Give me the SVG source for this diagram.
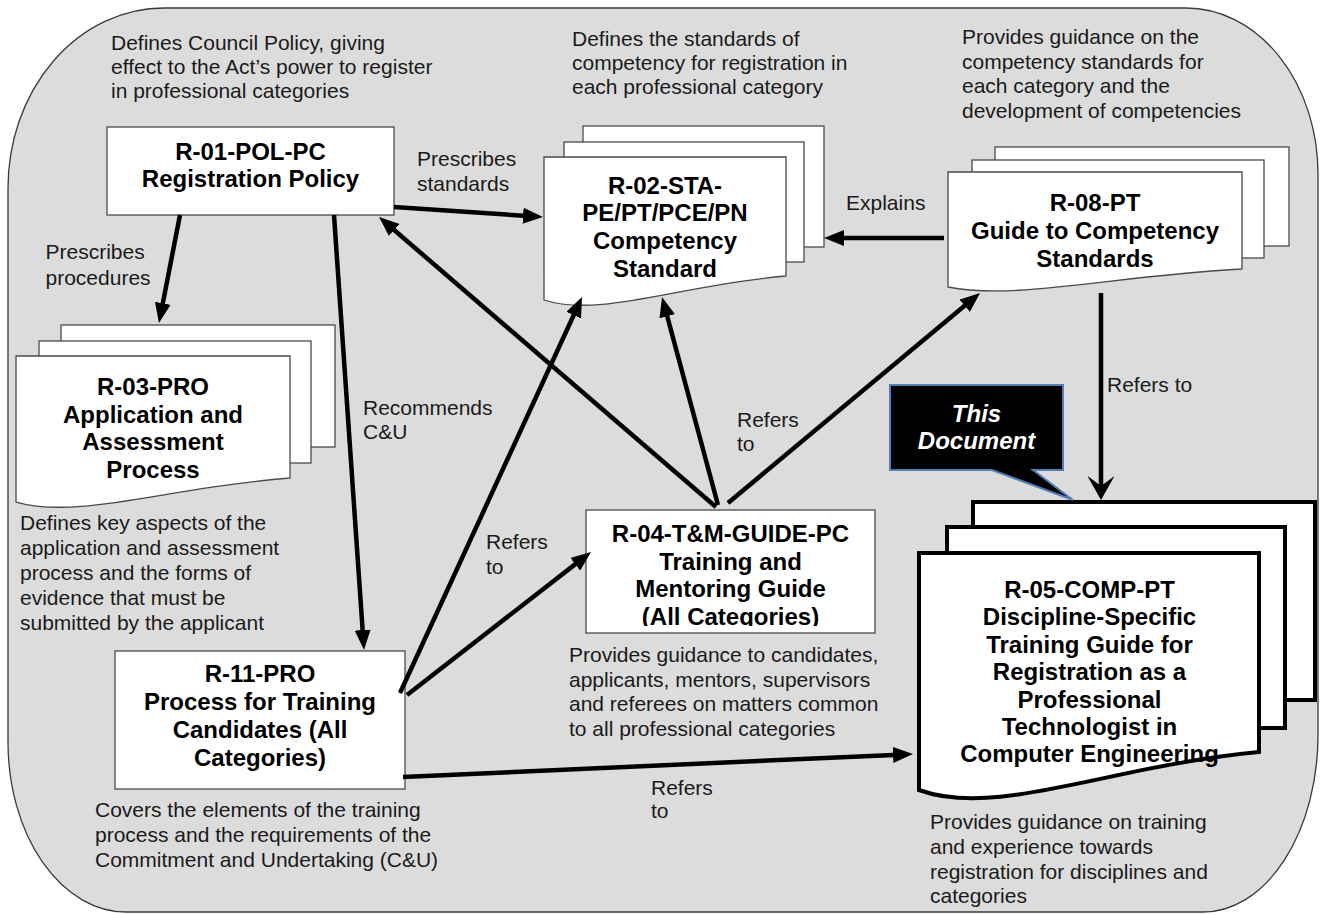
<svg xmlns="http://www.w3.org/2000/svg" width="1321" height="915" viewBox="0 0 1321 915">
<defs>
<style>
.bg{fill:#dcdcdc;stroke:#3a3a3a;stroke-width:1.3}
.pg{fill:#fff;stroke:#4a4a4a;stroke-width:1.3}
.pgk{fill:#fff;stroke:#000;stroke-width:4}
.t{font-family:"Liberation Sans",Arial,sans-serif;font-size:21px;fill:#1a1a1a}
.b{font-family:"Liberation Sans",Arial,sans-serif;font-size:24px;font-weight:bold;fill:#000;text-anchor:middle}
.c{fill:none;stroke:#000;stroke-width:4.5}
.ar{marker-end:url(#ah)}
.as{marker-end:url(#st)}
</style>
<marker id="ah" markerUnits="userSpaceOnUse" markerWidth="20" markerHeight="16" refX="12" refY="8" orient="auto" viewBox="0 0 20 16"><path d="M0,0 L20,8 L0,16 z" fill="#000"/></marker>
<marker id="st" markerUnits="userSpaceOnUse" markerWidth="24" markerHeight="27" refX="12" refY="13.5" orient="auto" viewBox="0 0 24 27"><path d="M0,0 L24,13.5 L0,27 L10,13.5 z" fill="#000"/></marker>
<clipPath id="r04clip"><rect x="586" y="510" width="289" height="116"/></clipPath>
</defs>

<path class="bg" d="M164,8 H1186 A132,166 0 0 1 1318,174 V735 A115,177 0 0 1 1203,912 H126 A118,170 0 0 1 8,742 V188 A156,180 0 0 1 164,8 Z"/>

<g id="r01">
<rect class="pg" x="107" y="127" width="287" height="88"/>
<text class="b"><tspan x="250.5" y="160">R-01-POL-PC</tspan><tspan x="250.5" y="187">Registration Policy</tspan></text>
<text class="t"><tspan x="111" y="50">Defines Council Policy, giving</tspan><tspan x="111" y="74">effect to the Act’s power to register</tspan><tspan x="111" y="98">in professional categories</tspan></text>
</g>

<g id="r02">
<rect class="pg" x="583" y="126" width="241" height="121"/>
<rect class="pg" x="564" y="142" width="240" height="120"/>
<path class="pg" d="M544,157 H786 V276 C679.5,285 599.7,318 544,300 Z"/>
<text class="b"><tspan x="665" y="193.5">R-02-STA-</tspan><tspan x="665" y="221.3">PE/PT/PCE/PN</tspan><tspan x="665" y="249">Competency</tspan><tspan x="665" y="276.8">Standard</tspan></text>
<text class="t"><tspan x="572" y="46">Defines the standards of</tspan><tspan x="572" y="70">competency for registration in</tspan><tspan x="572" y="94">each professional category</tspan></text>
</g>

<g id="r08">
<rect class="pg" x="995" y="147" width="294" height="99"/>
<rect class="pg" x="972" y="160" width="292" height="98"/>
<path class="pg" d="M948,172 H1242 V269 C1112.6,275.75 1015.6,300.5 948,287 Z"/>
<text class="b"><tspan x="1095" y="210.7">R-08-PT</tspan><tspan x="1095" y="239">Guide to Competency</tspan><tspan x="1095" y="266.7">Standards</tspan></text>
<text class="t"><tspan x="962" y="44">Provides guidance on the</tspan><tspan x="962" y="68.5">competency standards for</tspan><tspan x="962" y="93">each category and the</tspan><tspan x="962" y="117.5">development of competencies</tspan></text>
</g>

<g id="r03">
<rect class="pg" x="61" y="325" width="274" height="122"/>
<rect class="pg" x="39" y="341" width="272" height="122"/>
<path class="pg" d="M16,356 H290 V478 C169.4,487 79,520 16,502 Z"/>
<text class="b"><tspan x="153" y="395">R-03-PRO</tspan><tspan x="153" y="422.7">Application and</tspan><tspan x="153" y="450">Assessment</tspan><tspan x="153" y="477.7">Process</tspan></text>
<text class="t"><tspan x="20" y="530">Defines key aspects of the</tspan><tspan x="20" y="555">application and assessment</tspan><tspan x="20" y="580">process and the forms of</tspan><tspan x="20" y="605">evidence that must be</tspan><tspan x="20" y="630">submitted by the applicant</tspan></text>
</g>

<g id="r04">
<rect class="pg" x="586" y="510" width="289" height="123"/>
<text class="b" clip-path="url(#r04clip)"><tspan x="730.5" y="542">R-04-T&amp;M-GUIDE-PC</tspan><tspan x="730.5" y="569.5">Training and</tspan><tspan x="730.5" y="597">Mentoring Guide</tspan><tspan x="730.5" y="624.5">(All Categories)</tspan></text>
<text class="t"><tspan x="569" y="662">Provides guidance to candidates,</tspan><tspan x="569" y="686.5">applicants, mentors, supervisors</tspan><tspan x="569" y="711">and referees on matters common</tspan><tspan x="569" y="735.5">to all professional categories</tspan></text>
</g>

<g id="r11">
<rect class="pg" x="115" y="651" width="290" height="138"/>
<text class="b"><tspan x="260" y="681.7">R-11-PRO</tspan><tspan x="260" y="710">Process for Training</tspan><tspan x="260" y="738.3">Candidates (All</tspan><tspan x="260" y="766">Categories)</tspan></text>
<text class="t"><tspan x="95" y="817">Covers the elements of the training</tspan><tspan x="95" y="842">process and the requirements of the</tspan><tspan x="95" y="866.5">Commitment and Undertaking (C&amp;U)</tspan></text>
</g>

<g id="r05">
<rect class="pgk" x="973" y="502" width="342" height="198"/>
<rect class="pgk" x="947" y="527" width="338" height="201"/>
<path class="pgk" d="M919,553 H1259 V752 C1109,766 997,818.5 919,790 Z"/>
<text class="b"><tspan x="1089.5" y="598">R-05-COMP-PT</tspan><tspan x="1089.5" y="625.4">Discipline-Specific</tspan><tspan x="1089.5" y="652.8">Training Guide for</tspan><tspan x="1089.5" y="680.2">Registration as a</tspan><tspan x="1089.5" y="707.6">Professional</tspan><tspan x="1089.5" y="735">Technologist in</tspan><tspan x="1089.5" y="762.4">Computer Engineering</tspan></text>
<text class="t"><tspan x="930" y="829">Provides guidance on training</tspan><tspan x="930" y="854">and experience towards</tspan><tspan x="930" y="878.5">registration for disciplines and</tspan><tspan x="930" y="903">categories</tspan></text>
</g>

<g id="callout">
<path d="M890,385 H1063 V470 H1033 L1073,500 L992,470 H890 Z" fill="#000" stroke="#4f7fb5" stroke-width="2"/>
<text class="b" fill="#fff" style="fill:#fff;font-style:italic"><tspan x="976.5" y="422">This</tspan><tspan x="976.5" y="449">Document</tspan></text>
</g>

<g id="connectors">
<path class="c ar" d="M394,207 L535,216.5"/>
<path class="c ar" d="M180,215 L160.5,315.1"/>
<path class="c ar" d="M334,215 L363.45,642"/>
<path class="c ar" d="M716,507 L385.1,222.2"/>
<path class="c ar" d="M718,505 L664.1,304.7"/>
<path class="c ar" d="M728,503 L973.9,298.1"/>
<path class="c ar" d="M944,238 L832,238"/>
<path class="c as" d="M1101,293 L1101,488"/>
<path class="c ar" d="M400,693 L578.7,304.3"/>
<path class="c ar" d="M407,695 L584.7,556.9"/>
<path class="c ar" d="M403,777 L905,754.4"/>
</g>

<g id="labels">
<text class="t"><tspan x="417" y="166">Prescribes</tspan><tspan x="417" y="191">standards</tspan></text>
<text class="t"><tspan x="45.5" y="259">Prescribes</tspan><tspan x="45.5" y="285">procedures</tspan></text>
<text class="t"><tspan x="363" y="415">Recommends</tspan><tspan x="363" y="439">C&amp;U</tspan></text>
<text class="t"><tspan x="486" y="549">Refers</tspan><tspan x="486" y="574">to</tspan></text>
<text class="t"><tspan x="737" y="427">Refers</tspan><tspan x="737" y="451">to</tspan></text>
<text class="t" x="846" y="210">Explains</text>
<text class="t" x="1107" y="392">Refers to</text>
<text class="t"><tspan x="651" y="795">Refers</tspan><tspan x="651" y="818">to</tspan></text>
</g>
</svg>
